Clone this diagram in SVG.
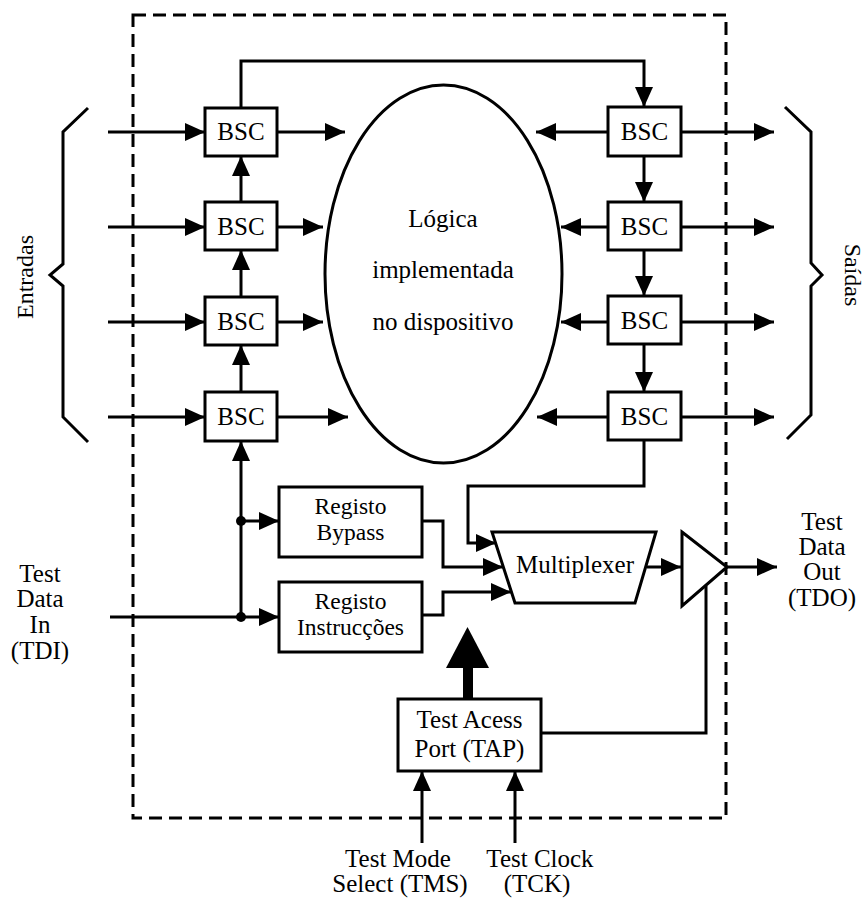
<svg xmlns="http://www.w3.org/2000/svg" width="866" height="898" viewBox="0 0 866 898">
<defs>
<marker id="ah" markerUnits="userSpaceOnUse" markerWidth="20" markerHeight="18" refX="20" refY="9" orient="auto" viewBox="0 0 20 18">
<path d="M0,0 L20,9 L0,18 z" fill="#000"/>
</marker>
</defs>
<style>
text{font-family:"Liberation Serif","Times New Roman",serif;font-size:25px;fill:#000;text-anchor:middle}
.two{font-size:23.5px}
.box{fill:#fff;stroke:#000;stroke-width:3}
.ln{fill:none;stroke:#000;stroke-width:3}
.ar{fill:none;stroke:#000;stroke-width:3;marker-end:url(#ah)}
.dash{fill:none;stroke:#000;stroke-width:3;stroke-dasharray:13 7}
</style>
<rect width="866" height="898" fill="#fff"/>
<rect id="device" class="dash" x="133" y="15" width="593" height="803"/>

<g id="connectors">
<path class="ar" d="M108,132 H205"/>
<path class="ar" d="M108,227 H205"/>
<path class="ar" d="M108,322 H205"/>
<path class="ar" d="M108,417 H205"/>
<path class="ar" d="M277,132 H345"/>
<path class="ar" d="M277,227 H323"/>
<path class="ar" d="M277,322 H323"/>
<path class="ar" d="M277,417 H348"/>
<path class="ar" d="M241,202 V156"/>
<path class="ar" d="M241,297 V250"/>
<path class="ar" d="M241,392 V345"/>
<path class="ar" d="M241,617 V441"/>
<path class="ar" d="M241,108 V61 H644 V107"/>
<path class="ar" d="M644,156 V202"/>
<path class="ar" d="M644,250 V296"/>
<path class="ar" d="M644,344 V392"/>
<path class="ar" d="M608,132 H536"/>
<path class="ar" d="M608,227 H561"/>
<path class="ar" d="M608,322 H561"/>
<path class="ar" d="M608,417 H537"/>
<path class="ar" d="M681,132 H774"/>
<path class="ar" d="M681,227 H774"/>
<path class="ar" d="M681,322 H774"/>
<path class="ar" d="M681,417 H774"/>
<path class="ar" d="M110,617 H279"/>
<path class="ar" d="M241,521 H279"/>
<circle cx="241" cy="521" r="5" fill="#000"/>
<circle cx="241" cy="617" r="5" fill="#000"/>
<path class="ar" d="M644,440 V486 H468 V543 H496"/>
<path class="ar" d="M422,521 H443 V567 H503"/>
<path class="ar" d="M422,615 H443 V592 H511"/>
<path class="ar" d="M647,567 H681"/>
<path class="ar" d="M727,567 H777"/>
<path class="ln" d="M541,733 H706 V586"/>
<rect x="463" y="666" width="10" height="33" fill="#000"/>
<path d="M446,668 L489,668 L467.5,627 z" fill="#000"/>
<path class="ar" d="M422,843 V771"/>
<path class="ar" d="M515,843 V771"/>
</g>

<g id="bsc-l1"><rect class="box" x="205" y="108" width="72" height="48"/><text x="241" y="140">BSC</text></g>
<g id="bsc-l2"><rect class="box" x="205" y="202" width="72" height="48"/><text x="241" y="235">BSC</text></g>
<g id="bsc-l3"><rect class="box" x="205" y="297" width="72" height="48"/><text x="241" y="330">BSC</text></g>
<g id="bsc-l4"><rect class="box" x="205" y="392" width="72" height="49"/><text x="241" y="425">BSC</text></g>

<g id="bsc-r1"><rect class="box" x="608" y="107" width="73" height="49"/><text x="644.5" y="140">BSC</text></g>
<g id="bsc-r2"><rect class="box" x="608" y="202" width="73" height="48"/><text x="644.5" y="235">BSC</text></g>
<g id="bsc-r3"><rect class="box" x="608" y="296" width="73" height="48"/><text x="644.5" y="329">BSC</text></g>
<g id="bsc-r4"><rect class="box" x="608" y="392" width="73" height="48"/><text x="644.5" y="425">BSC</text></g>

<g id="logic">
<ellipse class="ln" cx="443.5" cy="274" rx="118.5" ry="189"/>
<text x="443" y="227">Lógica</text>
<text x="443" y="278">implementada</text>
<text x="443" y="330">no dispositivo</text>
</g>

<g id="bypass"><rect class="box" x="279" y="487" width="143" height="70"/><text class="two" x="350.5" y="514">Registo</text><text class="two" x="350.5" y="540">Bypass</text></g>
<g id="instr"><rect class="box" x="279" y="582" width="143" height="70"/><text class="two" x="350.5" y="609">Registo</text><text class="two" x="350.5" y="635">Instrucções</text></g>

<g id="mux"><path class="box" d="M492,532 H656 L635,603 H515 z"/><text x="575" y="573">Multiplexer</text></g>
<g id="buffer"><path class="box" d="M682,532 L727,567 L682,606 z"/></g>

<g id="tap"><rect class="box" x="398" y="699" width="143" height="72"/><text x="469.5" y="728">Test Acess</text><text x="469.5" y="757">Port (TAP)</text></g>

<g id="entradas">
<path class="ln" d="M88,108 L63,132 V264 L50,275 L63,286 V417 L88,442"/>
<text transform="translate(33,277) rotate(-90)" style="font-size:24px">Entradas</text>
</g>
<g id="saidas">
<path class="ln" d="M785,107 L811,132 V263 L822,275 L811,286 V415 L787,439"/>
<text transform="translate(845,275) rotate(90)" style="font-size:24px">Saídas</text>
</g>

<g id="tdi"><text x="40" y="582">Test</text><text x="40" y="607">Data</text><text x="40" y="633">In</text><text x="40" y="659">(TDI)</text></g>
<g id="tdo"><text x="822" y="530">Test</text><text x="822" y="555">Data</text><text x="822" y="580">Out</text><text x="822" y="606">(TDO)</text></g>
<g id="tms"><text x="398" y="867">Test Mode</text><text x="400" y="892">Select (TMS)</text></g>
<g id="tck"><text x="540" y="867">Test Clock</text><text x="537" y="892">(TCK)</text></g>
</svg>
